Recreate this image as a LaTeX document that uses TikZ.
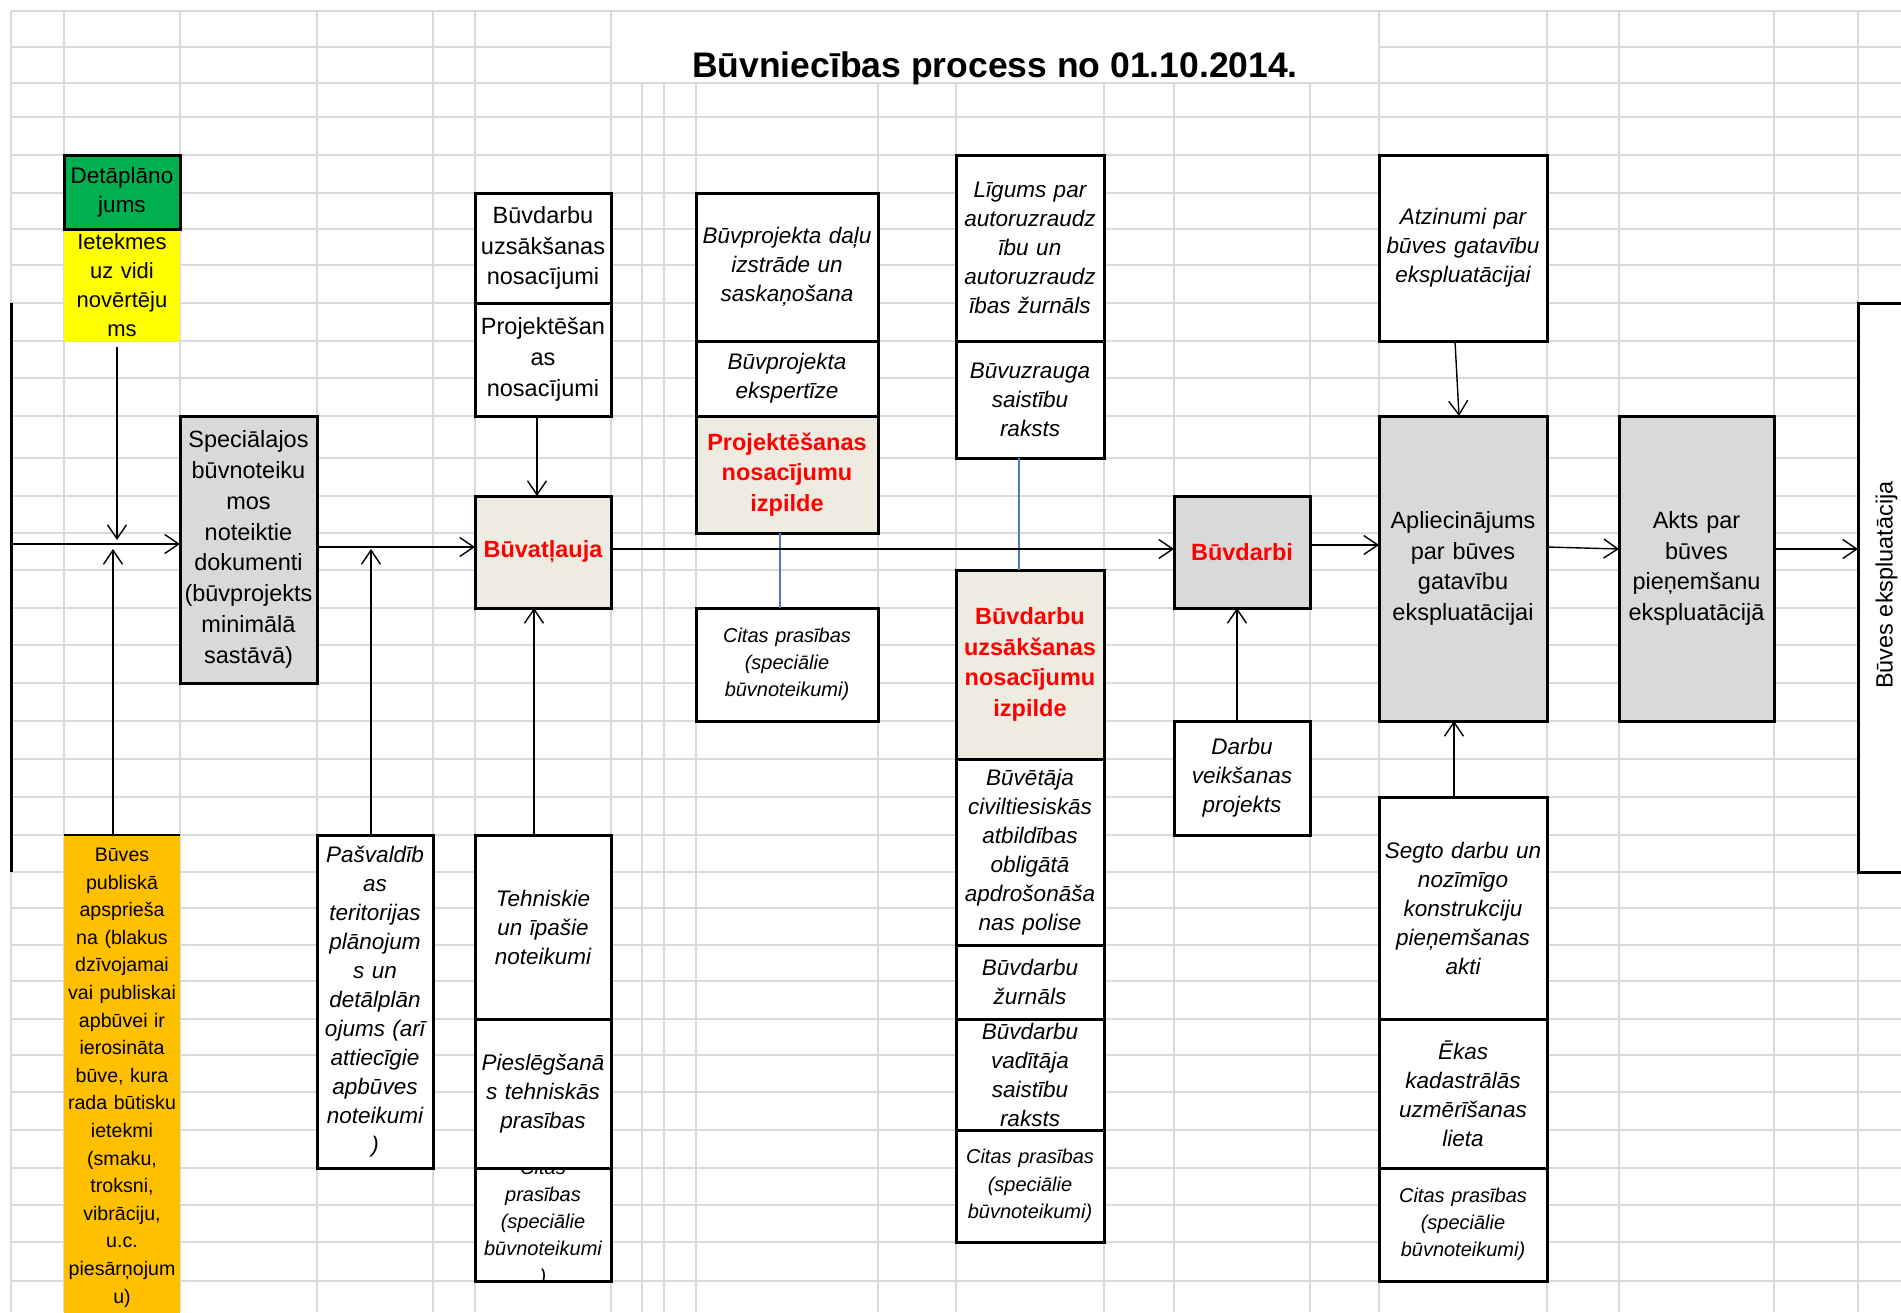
\documentclass[tikz,border=0pt]{standalone}
\usepackage{fontspec}
\setmainfont{Liberation Sans}
\usetikzlibrary{arrows.meta,calc}
\definecolor{gridc}{RGB}{218,218,218}
\definecolor{xgreen}{RGB}{0,176,80}
\definecolor{xyellow}{RGB}{255,255,0}
\definecolor{xorange}{RGB}{255,192,0}
\definecolor{xbeige}{RGB}{238,236,225}
\definecolor{xgray}{RGB}{217,217,217}
\definecolor{xred}{RGB}{255,0,0}
\definecolor{xblue}{RGB}{74,126,187}
\newcommand{\mkbox}[7]{%
  \pgfmathsetmacro\mybw{#4-#2}%
  \pgfmathsetmacro\mybh{#5-#3}%
  \pgfmathsetmacro\mytw{#4-#2-4}%
  \node[#6,minimum width=\mybw pt,minimum height=\mybh pt,text width=\mytw pt,anchor=north west] (#1) at (#2,#3) {#7};}
\tikzset{
  gridline/.style={draw=gridc, line width=1.4pt},
  bx/.style={draw=black, line width=3pt, fill=white, inner sep=0pt, outer sep=0pt, align=center},
  regtxt/.style={font=\fontsize{23.5}{30.8}\selectfont},
  itxt/.style={font=\itshape\fontsize{22.5}{29}\selectfont},
  citxt/.style={font=\itshape\fontsize{20}{27.3}\selectfont},
  redb/.style={text=xred, font=\bfseries\fontsize{23.5}{30.5}\selectfont},
  arr/.style={draw=black, line width=1.4pt, -{Straight Barb[length=14pt,width=19pt]}},
  bluel/.style={draw=xblue, line width=1.4pt}
}
\begin{document}
\begin{tikzpicture}[x=1pt,y=-1pt]
\useasboundingbox (0,0) rectangle (1901,1312);
\clip (0,0) rectangle (1901,1312);
\fill[white] (0,0) rectangle (1901,1312);
% grid
\foreach \x in {11,64,180,317,433,475,611,1379,1547,1619,1774,1858} \draw[gridline] (\x,11) -- (\x,1312);
\foreach \x in {642,664,696,878,956,1104,1174,1310} \draw[gridline] (\x,83) -- (\x,1312);
\draw[gridline] (11,11) -- (1901,11);
\draw[gridline] (11,47) -- (611,47);
\draw[gridline] (1379,47) -- (1901,47);
\foreach \y in {83,117,155,193,229,265,303,341,378,416,458,496,533,570,608,645,683,721,759,797,835,872,908,945,981,1019,1055,1092,1130,1168,1205,1242,1281} \draw[gridline] (11,\y) -- (1901,\y);

% title
\node[font=\bfseries\fontsize{35.5}{41}\selectfont] (title) at (995,68) {Būvniecības process no 01.10.2014.};

% left thick line
\coordinate (Ltop) at (11,303);
\coordinate (Lbot) at (11,872);
\draw[line width=3pt] (Ltop) -- (Lbot);

% column 1
\mkbox{ietek}{64}{229}{180}{341}{bx,draw=none,fill=xyellow,font=\fontsize{22}{29}\selectfont}{Ietekmes\\uz vidi\\novērtēju\\ms}
\mkbox{detal}{64}{155}{180}{229}{bx,fill=xgreen,font=\fontsize{22.5}{29}\selectfont}{Detāplāno\\jums}
\mkbox{pub}{64}{835}{180}{1320}{bx,draw=none,fill=xorange,font=\fontsize{19.6}{27.6}\selectfont}{Būves\\publiskā\\apsprieša\\na (blakus\\dzīvojamai\\vai publiskai\\apbūvei ir\\ierosināta\\būve, kura\\rada būtisku\\ietekmi\\(smaku,\\troksni,\\vibrāciju,\\u.c.\\piesārņojum\\u)}
\fill[xorange] (64,1318) rectangle (180,1312);
\draw[line width=2pt] (pub.north west) -- (pub.north east);

% column 2
\mkbox{spec}{180}{416}{317}{683}{bx,fill=xgray,regtxt}{Speciālajos\\būvnoteiku\\mos\\noteiktie\\dokumenti\\(būvprojekts\\minimālā\\sastāvā)}
\mkbox{pasv}{317}{835}{433}{1168}{bx,itxt}{Pašvaldīb\\as\\teritorijas\\plānojum\\s un\\detālplān\\ojums (arī\\attiecīgie\\apbūves\\noteikumi\\)}

% column 3
\mkbox{bun}{475}{193}{611}{303}{bx,regtxt}{Būvdarbu\\uzsākšanas\\nosacījumi}
\mkbox{projn}{475}{303}{611}{416}{bx,regtxt}{Projektēšan\\as\\nosacījumi}
\mkbox{atl}{475}{496}{611}{608}{bx,fill=xbeige,redb}{Būvatļauja}
\mkbox{tehn}{475}{835}{611}{1019}{bx,itxt}{Tehniskie\\un īpašie\\noteikumi}
\mkbox{piesl}{475}{1019}{611}{1168}{bx,itxt}{Pieslēgšanā\\s tehniskās\\prasības}
\mkbox{citT}{475}{1168}{611}{1281}{bx}{}
\begin{scope}
\clip (475,1168) rectangle (611,1281);
\node[citxt, align=center, text width=132pt, inner sep=0pt] (citTt) at (543,1223.5) {Citas\\prasības\\(speciālie\\būvnoteikumi\\)};
\end{scope}
\draw[line width=3pt] (citT.north west) rectangle (citT.south east);

% column 4
\mkbox{bpd}{696}{193}{878}{341}{bx,itxt}{Būvprojekta daļu\\izstrāde un\\saskaņošana}
\mkbox{bpe}{696}{341}{878}{416}{bx,itxt}{Būvprojekta\\ekspertīze}
\mkbox{projiz}{696}{416}{878}{533}{bx,fill=xbeige,redb}{Projektēšanas\\nosacījumu\\izpilde}
\mkbox{citP}{696}{608}{878}{721}{bx,citxt}{Citas prasības\\(speciālie\\būvnoteikumi)}

% column 5
\mkbox{lig}{956}{155}{1104}{341}{bx,itxt}{Līgums par\\autoruzraudz\\ību un\\autoruzraudz\\ības žurnāls}
\mkbox{buz}{956}{341}{1104}{458}{bx,itxt}{Būvuzrauga\\saistību\\raksts}
\mkbox{bdiz}{956}{570}{1104}{759}{bx,fill=xbeige,redb}{Būvdarbu\\uzsākšanas\\nosacījumu\\izpilde}
\mkbox{bvt}{956}{759}{1104}{945}{bx,itxt}{Būvētāja\\civiltiesiskās\\atbildības\\obligātā\\apdrošonāša\\nas polise}
\mkbox{bzu}{956}{945}{1104}{1019}{bx,itxt}{Būvdarbu\\žurnāls}
\mkbox{bva}{956}{1019}{1104}{1130}{bx,itxt}{Būvdarbu\\vadītāja\\saistību\\raksts}
\mkbox{citB}{956}{1130}{1104}{1242}{bx,citxt}{Citas prasības\\(speciālie\\būvnoteikumi)}

% column 6
\mkbox{bd}{1174}{496}{1310}{608}{bx,fill=xgray,redb}{Būvdarbi}
\mkbox{dvp}{1174}{721}{1310}{835}{bx,itxt}{Darbu\\veikšanas\\projekts}

% column 7
\mkbox{atz}{1379}{155}{1547}{341}{bx,itxt}{Atzinumi par\\būves gatavību\\ekspluatācijai}
\mkbox{apl}{1379}{416}{1547}{721}{bx,fill=xgray,regtxt}{Apliecinājums\\par būves\\gatavību\\ekspluatācijai}
\mkbox{segto}{1379}{797}{1547}{1019}{bx,itxt}{Segto darbu un\\nozīmīgo\\konstrukciju\\pieņemšanas\\akti}
\mkbox{ekas}{1379}{1019}{1547}{1168}{bx,itxt}{Ēkas\\kadastrālās\\uzmērīšanas\\lieta}
\mkbox{citR}{1379}{1168}{1547}{1281}{bx,citxt}{Citas prasības\\(speciālie\\būvnoteikumi)}

% column 8
\mkbox{akts}{1619}{416}{1774}{721}{bx,fill=xgray,regtxt}{Akts par\\būves\\pieņemšanu\\ekspluatācijā}

% right box
\mkbox{expl}{1858}{303}{1970}{872}{bx}{}
\node[rotate=90, font=\fontsize{23.5}{28}\selectfont, inner sep=0pt] (explT) at (1886.5,585) {Būves ekspluatācija};

% blue connectors
\coordinate (c3) at (780,0);
\draw[bluel] (projiz.south -| c3) -- (citP.north -| c3);
\coordinate (c4) at (1019,0);
\draw[bluel] (buz.south -| c4) -- (bdiz.north -| c4);

% arrows
\coordinate (m0) at (11,544);
\draw[arr] (m0) -- (spec.west |- m0);
\coordinate (d1) at (117,540);
\draw[arr] ($(ietek.south -| d1)+(0,6)$) -- (d1);
\coordinate (u1) at (113,549);
\draw[arr] (pub.north -| u1) -- (u1);
\coordinate (m1) at (0,547);
\draw[arr] (spec.east |- m1) -- (atl.west |- m1);
\coordinate (u2) at (371,549);
\draw[arr] (pasv.north -| u2) -- (u2);
\coordinate (c1) at (537,0);
\draw[arr] (projn.south -| c1) -- (atl.north -| c1);
\coordinate (c2) at (534,0);
\draw[arr] (tehn.north -| c2) -- (atl.south -| c2);
\coordinate (m2) at (0,549);
\draw[arr] (atl.east |- m2) -- (bd.west |- m2);
\coordinate (c5) at (1237,0);
\draw[arr] (dvp.north -| c5) -- (bd.south -| c5);
\coordinate (m3) at (0,545);
\draw[arr] (bd.east |- m3) -- (apl.west |- m3);
\coordinate (c6) at (1455,0);
\coordinate (c7) at (1459,0);
\draw[arr] (atz.south -| c6) -- (apl.north -| c7);
\coordinate (c8) at (1454,0);
\draw[arr] (segto.north -| c8) -- (apl.south -| c8);
\coordinate (m4) at (0,547);
\coordinate (m5) at (0,549);
\draw[arr] (apl.east |- m4) -- (akts.west |- m5);
\draw[arr] (akts.east |- m5) -- (expl.west |- m5);
\end{tikzpicture}
\end{document}
